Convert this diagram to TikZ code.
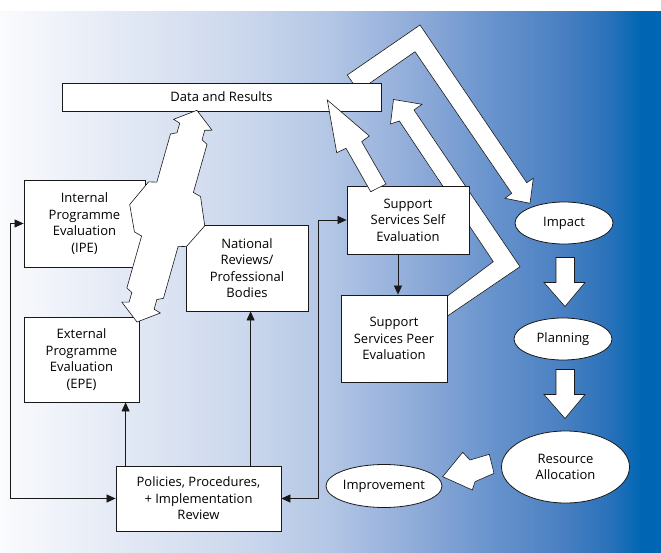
\documentclass[tikz,border=0pt]{standalone}
\usepackage{fontspec}
\setmainfont{Open Sans}
\usepackage{tikz}
\usetikzlibrary{arrows.meta,calc,shapes.geometric}
\definecolor{qaink}{RGB}{25,25,25}
\definecolor{qawhite}{RGB}{250,251,253}
\definecolor{qapale}{RGB}{219,227,242}
\definecolor{qalight}{RGB}{201,214,236}
\definecolor{qamid}{RGB}{179,198,229}
\definecolor{qasky}{RGB}{141,170,216}
\definecolor{qasteel}{RGB}{102,146,204}
\definecolor{qadeep}{RGB}{74,128,194}
\definecolor{qaroyal}{RGB}{42,114,186}
\definecolor{qablue}{RGB}{0,102,179}
% the path is mapped onto the middle 50bp of the shading
\pgfdeclarehorizontalshading{qafade}{100bp}{color(0bp)=(qawhite); color(25bp)=(qawhite);
  color(37.5bp)=(qapale); color(44bp)=(qalight); color(50bp)=(qamid); color(56.75bp)=(qasky);
  color(62.5bp)=(qasteel); color(67.5bp)=(qadeep); color(71bp)=(qaroyal); color(73.5bp)=(qablue);
  color(100bp)=(qablue)}

\begin{document}
\begin{tikzpicture}[x=1pt,y=-1pt,
    font=\fontsize{13}{16.5}\selectfont,
    box/.style={draw=qaink,fill=white,line width=0.8pt,inner sep=0pt,align=center},
    oval/.style={ellipse,draw=qaink,fill=white,line width=0.8pt,inner sep=0pt,align=center},
    blockarrow/.style={draw=qaink,fill=white,line width=0.6pt,line join=miter},
    link/.style={draw=qaink,line width=0.7pt},
    >={Triangle[length=9pt,width=8pt]}]
  \useasboundingbox (0,0) rectangle (661,553);
  \shade[shading=qafade] (0,12) rectangle (661,553);

  % big arrows that run behind the boxes
  \draw[blockarrow] (347.3,75) -- (420,25) -- (526.7,182.7) -- (533.3,178.3) -- (530,203.3)
    -- (505,198.3) -- (511.7,193.3) -- (415,51.7) -- (358.4,91.1) -- cycle;
  \draw[blockarrow] (393.5,99.5) -- (422,104.3) -- (414,110) -- (520,266.7) -- (447.5,316)
    -- (447.5,296) -- (493.3,261.7) -- (399.3,121) -- (390.5,124) -- cycle;

  % boxes
  \node[box,minimum width=319pt,minimum height=28pt] (data) at (221.5,97) {Data and Results};
  \node[box,minimum width=121pt,minimum height=87pt] (ipe) at (84.5,223.5)
    {Internal\\Programme\\Evaluation\\(IPE)};
  \node[box,minimum width=115pt,minimum height=85pt] (epe) at (81.5,359.5)
    {External\\Programme\\Evaluation\\(EPE)};
  \node[box,minimum width=122pt,minimum height=86pt] (nat) at (247,268)
    {National\\Reviews/\\Professional\\Bodies};
  \node[box,minimum width=165pt,minimum height=65pt] (pol) at (198.5,498.5)
    {Policies, Procedures,\\+ Implementation\\Review};
  \node[box,minimum width=122pt,minimum height=68pt] (self) at (408,220)
    {Support\\Services Self\\Evaluation};
  \node[box,minimum width=106pt,minimum height=87pt] (peer) at (394,338.5)
    {Support\\Services Peer\\Evaluation};
  \node[oval,minimum width=98pt,minimum height=42pt] (impact) at (564,223) {Impact};
  \node[oval,minimum width=98pt,minimum height=42pt] (plan) at (563,339) {Planning};
  \node[oval,minimum width=128pt,minimum height=72pt] (alloc) at (565.5,467)
    {Resource\\Allocation};
  \node[oval,minimum width=98pt,minimum height=43pt] (improve) at (384,486) {Improvement};

  % thin connectors
  \coordinate (epefoot) at ([xshift=10pt]pol.north west);
  \coordinate (natfoot) at ([xshift=135pt]pol.north west);
  \coordinate (selffoot) at ([xshift=-10pt]self.south);
  \draw[link,<->] (ipe.west) -- ++(-13,0) |- (pol.west);
  \draw[link,<->] (pol.east) -- ++(37,0) |- (self.west);
  \draw[link,->] (epefoot) -- (epefoot |- epe.south);
  \draw[link,->] (natfoot) -- (natfoot |- nat.south);
  \draw[link,->] (selffoot) -- (selffoot |- peer.north);

  % big arrows on top
  \draw[blockarrow] (327.3,100) -- (369.3,136) -- (361.7,141.7) -- (386,184) -- (370.7,191.7)
    -- (346,148.3) -- (336.7,152.7) -- cycle;
  \draw[blockarrow,shift={(137,322)},rotate=74.2] (220,0) -- (205,-20) -- (203,-13)
    -- (193,-13) -- (190,-19) -- (140,-19) -- (138,-27) -- (111,-39) -- (86,-27) -- (84,-19)
    -- (30,-19) -- (27,-13) -- (17,-13) -- (15,-20) -- (0,0) -- (15,20) -- (17,13) -- (27,13)
    -- (30,19) -- (84,19) -- (86,27) -- (111,39) -- (138,27) -- (140,19) -- (190,19)
    -- (193,13) -- (203,13) -- (205,20) -- cycle;
  \foreach \ytop in {257.5,369.5}
    \draw[blockarrow] (556,\ytop) -- (574.5,\ytop) -- (574.5,\ytop+25) -- (585,\ytop+25)
      -- (565,\ytop+49) -- (544,\ytop+25) -- (556,\ytop+25) -- cycle;
  \draw[blockarrow] (442.7,476.7) -- (462.7,452.3) -- (470,460) -- (489.3,454.3)
    -- (494,473.3) -- (475,481.7) -- (472.3,490) -- cycle;
\end{tikzpicture}
\end{document}
